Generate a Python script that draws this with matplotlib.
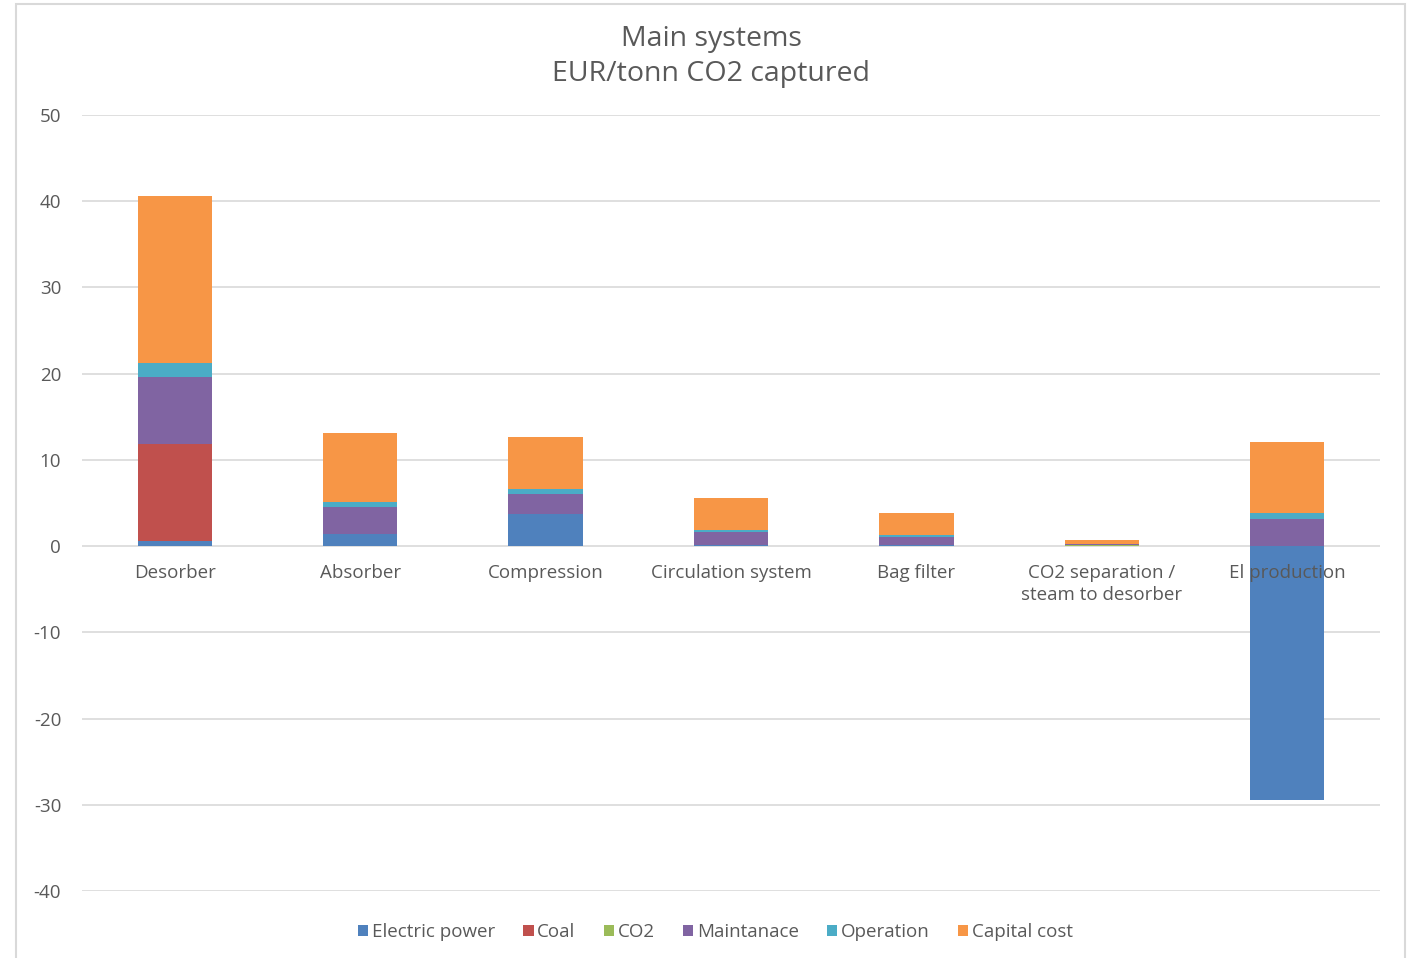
import numpy as np
import matplotlib
matplotlib.use("Agg")
import matplotlib.pyplot as plt
from matplotlib.patches import Rectangle

plt.rcParams["font.family"] = ["Open Sans", "DejaVu Sans"]
plt.rcParams["axes.unicode_minus"] = False

categories = ["Desorber", "Absorber", "Compression", "Circulation system",
              "Bag filter", "CO2 separation /\nsteam to desorber", "El production"]
series_names = ["Electric power", "Coal", "CO2", "Maintanace", "Operation", "Capital cost"]
electric_power = [0.6, 1.4, 3.7, 0.15, 0.1, 0.05, -29.4]
coal = [11.3, 0.0, 0.0, 0.0, 0.0, 0.0, 0.0]
co2 = [0.0, 0.0, 0.0, 0.0, 0.0, 0.1, 0.0]
maintanace = [7.7, 3.1, 2.4, 1.5, 0.9, 0.1, 3.1]
operation = [1.6, 0.65, 0.5, 0.25, 0.25, 0.05, 0.7]
capital_cost = [19.4, 8.0, 6.1, 3.65, 2.55, 0.4, 8.3]
colors = ["#4F81BD", "#C0504D", "#9BBB59", "#8064A2", "#4BACC6", "#F79646"]
yticks = list(range(-40, 51, 10))

fig = plt.figure(figsize=(14.14, 9.58), dpi=100)
ax = fig.add_axes([82 / 1414, 1 - 891 / 958, (1380 - 82) / 1414, (891 - 115) / 958])

# gridlines drawn by hand so the tick labels can sit above the bars
for yv in yticks:
    ax.axhline(yv, color="#d9d9d9", lw=1.2, zorder=0)

x = np.arange(len(categories))
pos_base = np.zeros(len(categories))
neg_base = np.zeros(len(categories))
for name, vals, c in zip(series_names,
                         [electric_power, coal, co2, maintanace, operation, capital_cost],
                         colors):
    v = np.array(vals)
    base = np.where(v >= 0, pos_base, neg_base)
    ax.bar(x, v, 0.4, bottom=base, color=c, label=name, zorder=1)
    pos_base += np.where(v >= 0, v, 0)
    neg_base += np.where(v < 0, v, 0)

ax.set_xlim(-0.5, len(categories) - 0.5)
ax.set_ylim(-40, 50)
ax.set_yticks(yticks)
for s in ["left", "right", "top"]:
    ax.spines[s].set_visible(False)
ax.spines["bottom"].set_position(("data", 0))
ax.spines["bottom"].set_visible(False)
ax.set_xticks(x)
ax.set_xticklabels(categories, fontsize=13.5, color="#595959", linespacing=1.25)
ax.tick_params(axis="x", length=0, pad=13)
ax.tick_params(axis="y", length=0, pad=15, labelsize=13.5, labelcolor="#595959")

fig.text(0.503, 1 - 39 / 958, "Main systems", ha="center", va="center",
         fontsize=20.5, color="#595959")
fig.text(0.503, 1 - 74 / 958, "EUR/tonn CO2 captured", ha="center", va="center",
         fontsize=20.5, color="#595959")

fig.legend(loc="center", bbox_to_anchor=(0.506, 1 - 932 / 958), ncol=6,
           frameon=False, fontsize=13.5, handlelength=0.55, handleheight=0.55,
           handletextpad=0.2, columnspacing=1.5, labelcolor="#595959")

fig.patches.append(Rectangle((16 / 1414, -0.01), (1405 - 16) / 1414, 1.01 - 4 / 958,
                             transform=fig.transFigure, fill=False,
                             edgecolor="#d9d9d9", lw=1.5))

fig.savefig("out.png", dpi=100)
